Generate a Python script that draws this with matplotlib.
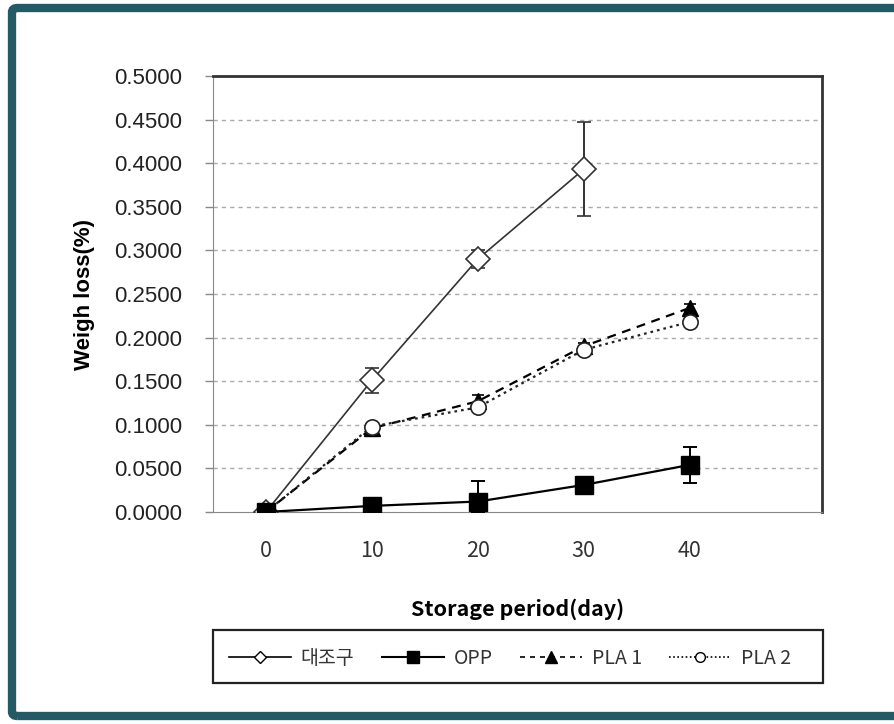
import numpy as np
import matplotlib
matplotlib.use("Agg")
import matplotlib.pyplot as plt
from matplotlib.patches import FancyBboxPatch, Rectangle
from matplotlib.lines import Line2D

# data
days = [0, 10, 20, 30, 40]
day_labels = ["0", "10", "20", "30", "40"]

control_days = [0, 10, 20, 30]
control = [0.0, 0.151, 0.290, 0.393]
control_err = [0.0, 0.014, 0.010, 0.054]

opp = [0.0, 0.007, 0.012, 0.031, 0.054]
opp_err = [0.0, 0.002, 0.023, 0.004, 0.021]

pla1 = [0.0, 0.096, 0.127, 0.190, 0.234]
pla1_err = [0.0, 0.003, 0.007, 0.004, 0.005]

pla2 = [0.0, 0.098, 0.120, 0.186, 0.218]
pla2_err = [0.0, 0.003, 0.005, 0.004, 0.005]

series_names = ["대조구", "OPP", "PLA 1", "PLA 2"]
yticks = np.arange(0, 0.5001, 0.05)

W, H = 894, 724
fig = plt.figure(figsize=(W / 100, H / 100), dpi=100)
fig.patch.set_facecolor("white")

# teal frame around the whole picture (open on the right)
frame = FancyBboxPatch((12 / W, 8 / H), 1.05 - 12 / W, 1 - 16 / H,
                       boxstyle="round,pad=0,rounding_size=0.006",
                       transform=fig.transFigure, fill=False,
                       edgecolor="#245a66", linewidth=6, clip_on=False)
fig.patches.append(frame)

ax = fig.add_axes([213 / W, 1 - 512 / H, (822 - 213) / W, (512 - 76) / H])

ax.set_ylim(0, 0.5)
ax.set_xlim(-5, 52.5)
ax.set_yticks(yticks)
ax.set_yticklabels([f"{v:.4f}" for v in yticks], fontsize=16,
                   family="Liberation Sans", color="#222222")
ax.set_xticks(days)
ax.set_xticklabels(day_labels, fontsize=15.5, family="Noto Sans CJK KR",
                   color="#333333")
ax.tick_params(axis="x", length=0, pad=20)
ax.tick_params(axis="y", length=6, width=1, color="#888888", pad=16)

for v in yticks[1:-1]:
    ax.axhline(v, color="#aaaaaa", linestyle=(0, (3, 3)), linewidth=1, zorder=0)

ax.spines["left"].set_color("#888888")
ax.spines["bottom"].set_color("#888888")
ax.spines["top"].set_color("#333333")
ax.spines["right"].set_color("#333333")
ax.spines["top"].set_linewidth(2)
ax.spines["right"].set_linewidth(2)

def lower(vals, errs):
    return [min(v, e) for v, e in zip(vals, errs)]

ax.errorbar(control_days, control, yerr=[lower(control, control_err), control_err],
            color="#333333", linewidth=1.2, marker="D", markersize=12,
            markerfacecolor="white", markeredgecolor="#333333", markeredgewidth=1.2,
            capsize=5, elinewidth=1.4, capthick=1.4, zorder=4)
ax.errorbar(days, opp, yerr=[lower(opp, opp_err), opp_err],
            color="black", linewidth=1.6, marker="s", markersize=13,
            markerfacecolor="black", capsize=5, elinewidth=1.4, capthick=1.4, zorder=5)
ax.errorbar(days, pla1, yerr=[lower(pla1, pla1_err), pla1_err],
            color="black", linewidth=1.6, linestyle=(0, (4, 3)), marker="^",
            markersize=11, markerfacecolor="black", capsize=4, elinewidth=1.2,
            capthick=1.2, zorder=4)
ax.errorbar(days, pla2, yerr=[lower(pla2, pla2_err), pla2_err],
            color="#222222", linewidth=1.6, linestyle=(0, (1.2, 1.8)), marker="o",
            markersize=11, markerfacecolor="white", markeredgecolor="#222222",
            markeredgewidth=1.2, capsize=4, elinewidth=1.2, capthick=1.2, zorder=4)

ax.set_ylabel("Weigh loss(%)", fontsize=16, fontweight="bold",
              family="Liberation Sans", labelpad=14)
ax.set_xlabel("Storage period(day)", fontsize=15.5, fontweight="bold",
              family="Noto Sans CJK KR", labelpad=26)

# legend box spanning the plot width
box = Rectangle((213 / W, 1 - 683 / H), (823 - 213) / W, (683 - 630) / H,
                transform=fig.transFigure, fill=False, edgecolor="#222222",
                linewidth=1.6)
fig.patches.append(box)

handles = [
    Line2D([], [], color="black", linewidth=1.2, marker="D", markersize=6,
           markerfacecolor="white"),
    Line2D([], [], color="black", linewidth=1.5, marker="s", markersize=8),
    Line2D([], [], color="black", linewidth=1.2, linestyle=(0, (3, 3)), marker="^",
           markersize=8),
    Line2D([], [], color="black", linewidth=1.2, linestyle=(0, (1, 1.5)), marker="o",
           markersize=7, markerfacecolor="white"),
]
leg = fig.legend(handles, series_names, loc="center", ncol=4,
                 bbox_to_anchor=(510 / W, 1 - 658 / H),
                 prop={"family": "Noto Sans CJK KR", "size": 14},
                 handlelength=3.2, handletextpad=0.5, columnspacing=1.4,
                 frameon=False, borderaxespad=0)
for t in leg.get_texts():
    t.set_color("#333333")

fig.savefig("out.png", dpi=100)
